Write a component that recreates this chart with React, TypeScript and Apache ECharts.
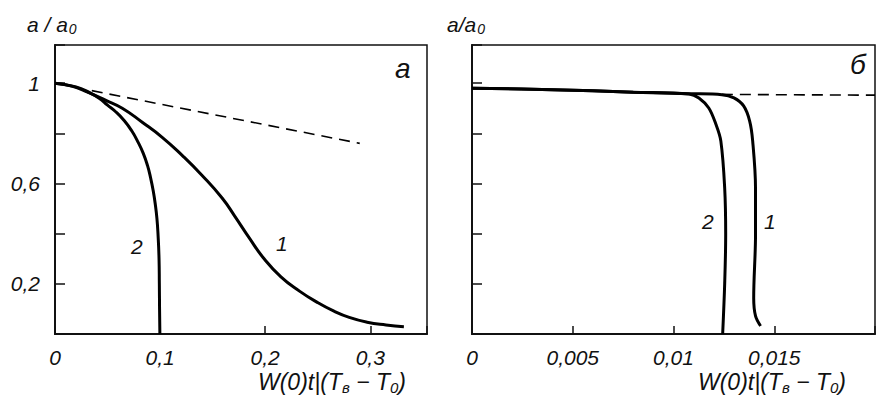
import React, { useEffect, useRef } from "react";
import * as echarts from "echarts";

// Panel a (left)
const curve1A: [number, number][] = [
  [0, 1.0], [0.016, 0.988], [0.031, 0.964], [0.048, 0.932], [0.064, 0.9],
  [0.083, 0.844], [0.102, 0.784], [0.121, 0.712], [0.14, 0.632], [0.159, 0.542],
  [0.171, 0.47], [0.185, 0.382], [0.198, 0.305], [0.215, 0.228], [0.233, 0.17],
  [0.25, 0.125], [0.265, 0.092], [0.28, 0.066], [0.297, 0.047], [0.315, 0.036],
  [0.332, 0.029],
];
const curve2A: [number, number][] = [
  [0, 1.0], [0.02, 0.985], [0.033, 0.962], [0.042, 0.94], [0.05, 0.912],
  [0.058, 0.885], [0.066, 0.85], [0.073, 0.81], [0.079, 0.765], [0.084, 0.72],
  [0.088, 0.672], [0.091, 0.622], [0.0935, 0.57], [0.0955, 0.515], [0.097, 0.46],
  [0.098, 0.4], [0.099, 0.3], [0.0993, 0.2], [0.0995, 0.1], [0.0998, 0.0],
];
const dashedA: [number, number][] = [[0.035, 0.97], [0.29, 0.76]];

// Panel б (right)
const curve2B: [number, number][] = [
  [0, 0.98], [0.004, 0.974], [0.008, 0.964], [0.01077, 0.957], [0.01126, 0.941],
  [0.01175, 0.901], [0.0121, 0.837], [0.01235, 0.769], [0.01254, 0.582],
  [0.01259, 0.398], [0.01254, 0.2], [0.01244, 0.0],
];
const curve1B: [number, number][] = [
  [0, 0.98], [0.004, 0.974], [0.008, 0.964], [0.0108, 0.958], [0.0124, 0.954],
  [0.013, 0.941], [0.01348, 0.909], [0.01378, 0.849], [0.01393, 0.769],
  [0.01407, 0.582], [0.01407, 0.398], [0.01398, 0.143], [0.01407, 0.072],
  [0.01432, 0.032],
];
const dashedB: [number, number][] = [[0.0124, 0.955], [0.02, 0.952]];

const xLabelsA = [0, 0.1, 0.2, 0.3];
const xLabelsB = [0, 0.005, 0.01, 0.015];
const yLabelsA = [0.2, 0.6, 1];

const FONT = "'Liberation Sans Narrow', 'Liberation Sans', 'DejaVu Sans', sans-serif";

const fmt = (v: number) => (v === 0 ? "0" : String(v).replace(".", ","));
const pick = (list: number[]) => (v: number) => {
  const hit = list.find((t) => Math.abs(t - v) < 1e-9);
  return hit === undefined ? "" : fmt(hit);
};

export default function App() {
  const ref = useRef<HTMLDivElement>(null);
  useEffect(() => {
    if (!ref.current) return;
    const chart = echarts.init(ref.current, undefined, { renderer: "svg" });
    const labelStyle = {
      fontFamily: FONT,
      fontStyle: "italic" as const,
      fontSize: 21,
      color: "#111",
    };
    const xAxisCommon = {
      type: "value" as const,
      min: 0,
      axisLine: { show: true, onZero: false, lineStyle: { color: "#111", width: 2 } },
      axisTick: { show: true, inside: true, length: 8, lineStyle: { color: "#111", width: 1.5 } },
      splitLine: { show: false },
      axisLabel: { ...labelStyle, margin: 13 },
    };
    const yAxisCommon = {
      type: "value" as const,
      min: 0,
      max: 1.152,
      interval: 0.2,
      axisLine: { show: true, onZero: false, lineStyle: { color: "#111", width: 2 } },
      axisTick: { show: true, inside: true, length: 10, lineStyle: { color: "#111", width: 1.5 } },
      splitLine: { show: false },
    };
    const solid = { color: "#000", width: 3 };
    const dash = { color: "#000", width: 1.6, type: [11, 7] as number[] };
    const line = (data: [number, number][], xi: number, ls: any, smooth: number) => ({
      type: "line" as const,
      data,
      xAxisIndex: xi,
      yAxisIndex: xi,
      showSymbol: false,
      smooth,
      lineStyle: ls,
      silent: true,
    });
    const t = (x: number, y: number, text: string, size = 21) => ({
      type: "text" as const,
      x,
      y,
      style: {
        text,
        font: `italic ${size}px ${FONT}`,
        fill: "#111",
      },
    });
    const aName = (x: number, y: number, text: string) => ({
      type: "text" as const,
      x,
      y,
      style: {
        text: `{m|${text}}{s|0}`,
        fill: "#111",
        rich: {
          m: { fontFamily: FONT, fontStyle: "italic", fontSize: 21, fill: "#111" },
          s: { fontFamily: FONT, fontStyle: "italic", fontSize: 14, fill: "#111", padding: [10, 0, 0, 1] },
        },
      },
    });
    const wName = (x: number, y: number) => ({
      type: "text" as const,
      x,
      y,
      style: {
        text: "{m|W(0)t|(T}{s|в}{m| − T}{s|0}{m|)}",
        fill: "#111",
        rich: {
          m: { fontFamily: FONT, fontStyle: "italic", fontSize: 23, fill: "#111" },
          s: { fontFamily: FONT, fontStyle: "italic", fontSize: 15, fill: "#111", padding: [12, 0, 0, 0] },
        },
      },
    });
    chart.setOption({
      animation: false,
      backgroundColor: "#fff",
      grid: [
        { left: 55, top: 45, width: 372, height: 289, show: true, borderColor: "#111", borderWidth: 1.5, backgroundColor: "transparent" },
        { left: 472, top: 45, width: 405, height: 289, show: true, borderColor: "#111", borderWidth: 1.5, backgroundColor: "transparent" },
      ],
      xAxis: [
        { ...xAxisCommon, gridIndex: 0, max: 0.354, interval: 0.1, axisLabel: { ...xAxisCommon.axisLabel, formatter: pick(xLabelsA) } },
        { ...xAxisCommon, gridIndex: 1, max: 0.02, interval: 0.005, axisLabel: { ...xAxisCommon.axisLabel, formatter: pick(xLabelsB) } },
      ],
      yAxis: [
        { ...yAxisCommon, gridIndex: 0, axisLabel: { ...labelStyle, margin: 15, formatter: pick(yLabelsA) } },
        { ...yAxisCommon, gridIndex: 1, axisLabel: { show: false } },
      ],
      series: [
        line(dashedA, 0, dash, 0),
        line(curve1A, 0, solid, 0.5),
        line(curve2A, 0, solid, 0.5),
        line(dashedB, 1, dash, 0),
        line(curve1B, 1, solid, 0.35),
        line(curve2B, 1, solid, 0.35),
      ],
      graphic: [
        aName(27, 12, "a / a"),
        aName(447, 12, "a/a"),
        wName(258, 368),
        wName(698, 368),
        t(395, 54, "a", 28),
        t(850, 50, "б", 28),
        t(131, 236, "2"),
        t(276, 233, "1"),
        t(702, 211, "2"),
        t(764, 211, "1"),
      ],
    });
    return () => chart.dispose();
  }, []);
  return (
    <div
      ref={ref}
      style={{ position: "fixed", left: 0, top: 0, width: 878, height: 401, background: "#fff" }}
    />
  );
}
